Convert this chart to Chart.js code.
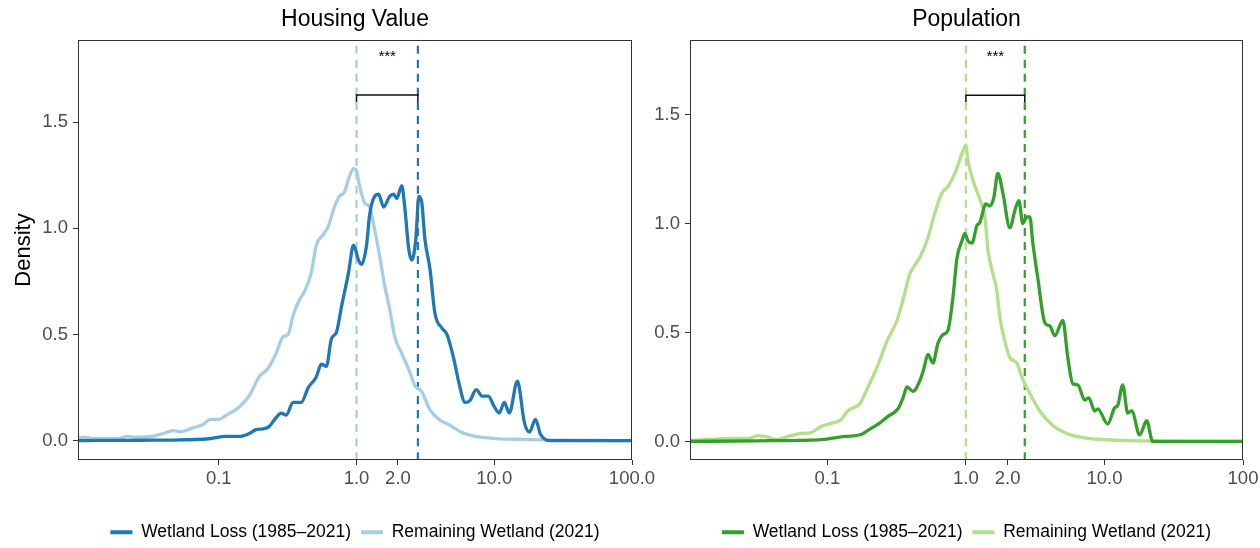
<!DOCTYPE html>
<html><head><meta charset="utf-8">
<script src="https://cdn.jsdelivr.net/npm/chart.js@4.4.0/dist/chart.umd.min.js"></script>
<style>
html,body{margin:0;padding:0;background:#fff;overflow:hidden;width:1260px;height:548px;}
#c1{position:absolute;left:0;top:0;}
#c2{position:absolute;left:650px;top:0;}
</style></head><body>
<canvas id="c1" width="660" height="551"></canvas>
<canvas id="c2" width="610" height="551"></canvas>
<script>
// ---------- tick labels ----------
const xTickValues = [0.1, 1, 2, 10, 100];
const xTickLabelsHousing = ['0.1', '1.0', '2.0', '10.0', '100.0'];
const xTickLabelsPopulation = ['0.1', '1.0', '2.0', '10.0', '100'];
const yTickValues = [0, 0.5, 1, 1.5];
const panelTitles = ['Housing Value', 'Population'];
const seriesNames = ['Wetland Loss (1985–2021)', 'Remaining Wetland (2021)'];
const significance = ['***', '***'];

// ---------- Housing Value: Wetland Loss ----------
const housingLossX = [0.00951, 0.01377, 0.02788, 0.04854, 0.08453, 0.1125, 0.13996, 0.1656, 0.1863, 0.2096, 0.2317, 0.2606, 0.2837, 0.3085, 0.3468, 0.397, 0.4466, 0.5105, 0.5555, 0.6043, 0.6574, 0.715, 0.7778, 0.8745, 0.9508, 1.034, 1.088, 1.183, 1.244, 1.353, 1.447, 1.574, 1.741, 1.862, 1.959, 2.131, 2.24, 2.397, 2.52, 2.697, 2.836, 2.98, 3.135, 3.411, 3.71, 4.17, 4.537, 5.105, 5.55, 6.14, 6.68, 7.39, 8.17, 9.04, 10.0, 10.87, 11.83, 12.86, 14.72, 16.56, 18.0, 19.91, 21.67, 25.2, 31.4, 61.4, 100];
const housingLossY = [0.0, 0.001, 0.002, 0.003, 0.009, 0.02, 0.02, 0.033, 0.052, 0.056, 0.066, 0.108, 0.13, 0.12, 0.18, 0.18, 0.25, 0.30, 0.36, 0.35, 0.48, 0.51, 0.63, 0.79, 0.92, 0.85, 0.83, 0.92, 1.06, 1.15, 1.16, 1.10, 1.15, 1.16, 1.14, 1.20, 1.10, 0.90, 0.85, 0.95, 1.15, 1.12, 0.95, 0.81, 0.60, 0.53, 0.50, 0.38, 0.27, 0.18, 0.19, 0.24, 0.21, 0.21, 0.16, 0.13, 0.18, 0.13, 0.28, 0.085, 0.04, 0.10, 0.03, 0.0, 0.0, 0.0, 0.0];

// ---------- Housing Value: Remaining Wetland ----------
const housingRemainX = [0.00951, 0.01069, 0.01265, 0.01862, 0.02167, 0.02478, 0.03298, 0.039, 0.04695, 0.0528, 0.06457, 0.07641, 0.0874, 0.1, 0.1163, 0.1331, 0.1522, 0.1714, 0.1961, 0.2278, 0.2606, 0.2935, 0.319, 0.3468, 0.3835, 0.417, 0.4694, 0.5105, 0.5745, 0.6246, 0.691, 0.7515, 0.8172, 0.8745, 0.9508, 1.0, 1.052, 1.144, 1.244, 1.353, 1.472, 1.601, 1.741, 1.894, 2.131, 2.397, 2.65, 2.98, 3.411, 3.967, 4.692, 5.837, 7.262, 10.19, 16.0, 26.5, 52, 100];
const housingRemainY = [0.014, 0.016, 0.009, 0.009, 0.02, 0.016, 0.02, 0.033, 0.047, 0.042, 0.06, 0.075, 0.10, 0.10, 0.125, 0.146, 0.18, 0.225, 0.30, 0.34, 0.41, 0.49, 0.50, 0.59, 0.66, 0.70, 0.79, 0.92, 0.97, 1.01, 1.10, 1.15, 1.17, 1.23, 1.28, 1.27, 1.20, 1.12, 1.10, 0.995, 0.87, 0.73, 0.62, 0.49, 0.41, 0.335, 0.26, 0.23, 0.146, 0.10, 0.075, 0.038, 0.02, 0.01, 0.006, 0.003, 0.001, 0.0];

// ---------- Population: Wetland Loss ----------
const popLossX = [0.0102, 0.0301, 0.0636, 0.0901, 0.1136, 0.1341, 0.175, 0.2065, 0.2398, 0.274, 0.3236, 0.3516, 0.3757, 0.415, 0.4659, 0.4977, 0.532, 0.578, 0.628, 0.6826, 0.7418, 0.806, 0.861, 0.936, 0.9835, 1.034, 1.105, 1.2, 1.262, 1.394, 1.49, 1.591, 1.701, 1.849, 2.076, 2.256, 2.411, 2.576, 2.754, 2.894, 3.041, 3.304, 3.712, 4.034, 4.383, 5.005, 5.438, 5.908, 6.42, 7.21, 7.71, 8.51, 8.95, 10.56, 11.87, 12.47, 13.55, 14.72, 15.73, 17.97, 20.18, 22.3, 34.9, 100];
const popLossY = [0.0, 0.003, 0.005, 0.008, 0.017, 0.023, 0.032, 0.06, 0.085, 0.115, 0.15, 0.20, 0.25, 0.23, 0.28, 0.335, 0.40, 0.36, 0.45, 0.49, 0.51, 0.66, 0.84, 0.92, 0.955, 0.92, 0.91, 0.99, 1.005, 1.09, 1.08, 1.12, 1.23, 1.14, 0.98, 1.06, 1.105, 1.0, 1.03, 1.03, 0.91, 0.75, 0.545, 0.53, 0.485, 0.555, 0.385, 0.265, 0.26, 0.19, 0.20, 0.14, 0.15, 0.08, 0.155, 0.165, 0.26, 0.13, 0.14, 0.03, 0.095, 0.0, 0.0, 0.0];

// ---------- Population: Remaining Wetland ----------
const popRemainX = [0.0102, 0.0138, 0.01923, 0.02681, 0.03165, 0.03736, 0.04268, 0.05209, 0.06461, 0.07628, 0.0901, 0.1063, 0.1256, 0.141, 0.1721, 0.1933, 0.2282, 0.2694, 0.318, 0.3516, 0.3946, 0.4287, 0.4659, 0.532, 0.5977, 0.6713, 0.7418, 0.8331, 0.936, 1.0, 1.034, 1.123, 1.262, 1.371, 1.441, 1.565, 1.673, 1.758, 1.911, 2.076, 2.332, 2.533, 2.894, 3.416, 4.24, 5.349, 6.976, 9.25, 15.22, 25.04, 100];
const popRemainY = [0.005, 0.009, 0.014, 0.014, 0.027, 0.02, 0.009, 0.023, 0.037, 0.041, 0.069, 0.083, 0.10, 0.142, 0.174, 0.24, 0.34, 0.46, 0.555, 0.65, 0.77, 0.81, 0.845, 0.935, 1.05, 1.14, 1.17, 1.23, 1.32, 1.36, 1.29, 1.20, 1.11, 1.03, 0.88, 0.77, 0.69, 0.57, 0.46, 0.385, 0.36, 0.295, 0.22, 0.14, 0.073, 0.037, 0.018, 0.009, 0.004, 0.002, 0.0];

// medians (dashed lines): [Wetland Loss, Remaining Wetland]
const housingMedians = [2.79, 1.0];
const popMedians = [2.66, 1.0];

const FONT = "'Liberation Sans', Arial, sans-serif";
Chart.defaults.font.family = FONT;

function pts(xs, ys) { return xs.map((x, i) => ({x: x, y: ys[i]})); }

const decor = {
  id: 'decor',
  afterDatasetsDraw(chart, args, o) {
    const {ctx, chartArea: a, scales: {x, y}} = chart;
    ctx.save();
    ctx.strokeStyle = '#333';
    ctx.lineWidth = 1;
    ctx.strokeRect(a.left + 0.5, a.top + 0.5, a.right - a.left - 1, a.bottom - a.top - 1);
    const sx = x.getPixelForValue(Math.sqrt(o.a * o.b));
    const sy = y.getPixelForValue(o.starY);
    ctx.fillStyle = '#000';
    ctx.font = '15px ' + FONT;
    ctx.textAlign = 'center';
    ctx.textBaseline = 'alphabetic';
    ctx.fillText(o.text, sx, sy);
    ctx.restore();
  }
};

function makePanel(canvasId, cfg) {
  const line = (data, color, w, dash) => ({
    data: data, borderColor: color, backgroundColor: color, borderWidth: w,
    borderDash: dash || [], pointRadius: 0, pointHoverRadius: 0, fill: false,
    cubicInterpolationMode: 'monotone'
  });
  const [mLoss, mRem] = cfg.medians;
  // datasets with lower index are drawn on top
  const datasets = [
    Object.assign(line(pts(cfg.lossX, cfg.lossY), cfg.dark, 3.3), {label: seriesNames[0]}),
    Object.assign(line(pts(cfg.remX, cfg.remY), cfg.light, 3.3), {label: seriesNames[1]}),
    Object.assign(line([{x: mRem, y: cfg.brLow}, {x: mRem, y: cfg.brHigh}, {x: mLoss, y: cfg.brHigh}, {x: mLoss, y: cfg.brLow}], '#111', 1.5), {label: 'br', cubicInterpolationMode: 'default', tension: 0}),
    Object.assign(line([{x: mRem, y: cfg.yMin}, {x: mRem, y: cfg.yMax}], cfg.light, 2.2, [8, 6]), {label: 'm1', tension: 0}),
    Object.assign(line([{x: mLoss, y: cfg.yMin}, {x: mLoss, y: cfg.yMax}], cfg.dark, 2.2, [8, 6]), {label: 'm2', tension: 0})
  ];
  return new Chart(document.getElementById(canvasId), {
    type: 'line',
    data: {datasets: datasets},
    plugins: [decor],
    options: {
      responsive: false,
      animation: false,
      events: [],
      layout: {padding: {left: 0, right: cfg.padRight, top: 0, bottom: 0}},
      scales: {
        x: {
          type: 'logarithmic', min: cfg.xMin, max: 100,
          afterBuildTicks: s => { s.ticks = xTickValues.map(v => ({value: v})); },
          afterFit: s => { s.height = 53.5; s.paddingLeft = 0; s.paddingRight = 0; },
          ticks: {autoSkip: false, maxRotation: 0, minRotation: 0, padding: 3, color: '#4d4d4d',
                  font: {size: 18.5}, callback: (v, i) => cfg.xLabels[i]},
          grid: {drawOnChartArea: false, drawTicks: true, tickLength: 5, tickColor: '#333', tickWidth: 1},
          border: {display: false}
        },
        y: {
          type: 'linear', min: cfg.yMin, max: cfg.yMax,
          afterBuildTicks: s => { s.ticks = yTickValues.map(v => ({value: v})); },
          afterFit: s => { s.width = cfg.yWidth; s.paddingTop = 0; s.paddingBottom = 0; },
          ticks: {padding: 5, color: '#4d4d4d', font: {size: 18.5}, callback: v => Number(v).toFixed(1)},
          grid: {drawOnChartArea: false, drawTicks: true, tickLength: 5, tickColor: '#333', tickWidth: 1},
          border: {display: false},
          title: {display: cfg.yTitle, text: 'Density', color: '#000', font: {size: 22}, padding: {top: 11, bottom: 0}}
        }
      },
      plugins: {
        title: {display: true, text: cfg.title, color: '#000', font: {size: 23, weight: 'normal'},
                padding: {top: 6, bottom: 6.4}, fullSize: false},
        legend: {
          position: 'bottom', fullSize: false,
          labels: {
            boxWidth: 22, boxHeight: 4, padding: 10, color: '#000', font: {size: 17.5},
            generateLabels: chart => chart.data.datasets.slice(0, 2).map((d, i) => ({
              text: d.label, fillStyle: d.borderColor, strokeStyle: d.borderColor,
              lineWidth: 0, hidden: false, datasetIndex: i, fontColor: '#000'
            }))
          }
        },
        tooltip: {enabled: false},
        decor: {a: mRem, b: mLoss, starY: cfg.starY, text: cfg.stars}
      }
    }
  });
}

makePanel('c1', {
  title: panelTitles[0], lossX: housingLossX, lossY: housingLossY, remX: housingRemainX, remY: housingRemainY,
  dark: '#1f78b4', light: '#a6cee3', medians: housingMedians, xMin: 0.00951, yMin: -0.091, yMax: 1.886,
  xLabels: xTickLabelsHousing, yWidth: 78, yTitle: true, padRight: 28,
  brLow: 1.594, brHigh: 1.627, starY: 1.787, stars: significance[0]
});
makePanel('c2', {
  title: panelTitles[1], lossX: popLossX, lossY: popLossY, remX: popRemainX, remY: popRemainY,
  dark: '#33a02c', light: '#b2df8a', medians: popMedians, xMin: 0.0102, yMin: -0.085, yMax: 1.842,
  xLabels: xTickLabelsPopulation, yWidth: 40, yTitle: false, padRight: 17,
  brLow: 1.557, brHigh: 1.589, starY: 1.745, stars: significance[1]
});
</script>
</body></html>
